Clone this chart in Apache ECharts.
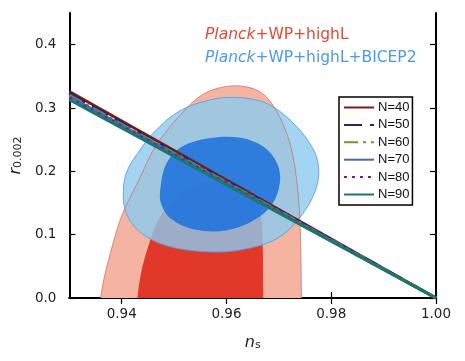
<!DOCTYPE html>
<html>
<head>
<meta charset="utf-8">
<script src="https://cdn.jsdelivr.net/npm/echarts@6/dist/echarts.min.js"></script>
<style>
  html, body { margin: 0; padding: 0; background: #fff; }
  #chart { width: 465px; height: 361px; }
</style>
</head>
<body>
<div id="chart"></div>
<script>
// tick labels
const nsTicks = [0.94, 0.96, 0.98, 1.00]
const rTicks = [0.0, 0.1, 0.2, 0.3, 0.4]

// N-lines: r at ns = 0.93 and ns = 1.00
const nsEnds = [0.93, 1.00]
const lineNames = ['N=40', 'N=50', 'N=60', 'N=70', 'N=80', 'N=90']
const rN40 = [0.326, 0]
const rN50 = [0.323, 0]
const rN60 = [0.320, 0]
const rN70 = [0.318, 0]
const rN80 = [0.316, 0]
const rN90 = [0.313, 0]

// contours [ns, r]
const planck95 = [
  [0.9366, 0.03], [0.9378, 0.07], [0.9400, 0.13], [0.9432, 0.185], [0.9465, 0.24],
  [0.9515, 0.292], [0.9556, 0.322], [0.9600, 0.334], [0.9640, 0.333], [0.9670, 0.322],
  [0.9692, 0.300], [0.9715, 0.26], [0.9730, 0.21], [0.9739, 0.14], [0.9742, 0.07],
  [0.9743, 0.0], [0.9743, -0.02], [0.9360, -0.02], [0.9360, 0.0]
]
const planck68 = [
  [0.9437, 0.04], [0.9450, 0.08], [0.9468, 0.12], [0.9495, 0.152], [0.9535, 0.176],
  [0.9578, 0.186], [0.9620, 0.180], [0.9650, 0.165], [0.9665, 0.135], [0.9669, 0.09],
  [0.9670, 0.0], [0.9670, -0.02], [0.9430, -0.02], [0.9430, 0.0]
]
const bicep95 = [
  [0.9403, 0.170], [0.9410, 0.200], [0.9430, 0.228], [0.9462, 0.262], [0.9510, 0.295],
  [0.9575, 0.314], [0.9630, 0.316], [0.9680, 0.306], [0.9729, 0.275], [0.9765, 0.236],
  [0.9776, 0.205], [0.9770, 0.170], [0.9741, 0.128], [0.9697, 0.094], [0.9627, 0.076],
  [0.9564, 0.073], [0.9488, 0.082], [0.9435, 0.104], [0.9408, 0.135]
]
const bicep68 = [
  [0.9474, 0.175], [0.9485, 0.212], [0.9513, 0.238], [0.9564, 0.252], [0.9627, 0.253],
  [0.9672, 0.238], [0.9697, 0.212], [0.9702, 0.183], [0.9688, 0.149], [0.9653, 0.123],
  [0.9602, 0.107], [0.9539, 0.108], [0.9494, 0.125], [0.9475, 0.149]
]

const FONT = 'DejaVu Sans'

// filled blob through the axes
const contour = (pts, fill, stroke) => ({
  type: 'custom',
  clip: true,
  silent: true,
  data: pts,
  encode: { x: 0, y: 1 },
  renderItem: (params, api) => {
    if (params.dataIndex !== 0) return
    return {
      type: 'polygon',
      shape: { points: pts.map(p => api.coord(p)), smooth: 0.35 },
      style: { fill: fill, stroke: stroke || null, lineWidth: 1 }
    }
  }
})

const nLine = (name, vals, color, type, width) => ({
  name: name,
  type: 'line',
  data: nsEnds.map((x, i) => [x, vals[i]]),
  symbol: 'none',
  clip: true,
  lineStyle: { color: color, width: width || 3, type: type || 'solid' },
  itemStyle: { color: color }
})

const tickAxis = {
  min: 0.93, max: 1.0,
  axisLine: { lineStyle: { color: '#000', width: 2 } },
  axisTick: { inside: true, length: 6, customValues: nsTicks, lineStyle: { color: '#000', width: 1.2 } },
  splitLine: { show: false }
}
const rAxis = {
  min: 0, max: 0.45,
  axisLine: { show: true, lineStyle: { color: '#000', width: 2 } },
  axisTick: { show: true, inside: true, length: 6, customValues: rTicks, lineStyle: { color: '#000', width: 1.2 } },
  splitLine: { show: false }
}

const chart = echarts.init(document.getElementById('chart'))
chart.setOption({
  animation: false,
  backgroundColor: '#fff',
  grid: { left: 68, right: 29, top: 13, bottom: 63 },
  title: [
    {
      text: '{i|Planck}+WP+highL',
      left: 205, top: 27, padding: 0,
      textStyle: {
        fontFamily: FONT, fontSize: 15.5, fontWeight: 'normal', color: '#dd4b35',
        rich: { i: { fontFamily: FONT, fontSize: 15.5, fontStyle: 'italic', color: '#dd4b35' } }
      }
    },
    {
      text: '{i|Planck}+WP+highL+BICEP2',
      left: 205, top: 50, padding: 0,
      textStyle: {
        fontFamily: FONT, fontSize: 15.5, fontWeight: 'normal', color: '#4a9be6',
        rich: { i: { fontFamily: FONT, fontSize: 15.5, fontStyle: 'italic', color: '#4a9be6' } }
      }
    }
  ],
  legend: {
    data: lineNames,
    orient: 'vertical',
    left: 339, top: 97,
    padding: [4, 3, 4, 4],
    itemWidth: 30, itemHeight: 14, itemGap: 4.4,
    itemStyle: { opacity: 0 },
    borderColor: '#000', borderWidth: 1.5, borderRadius: 0,
    backgroundColor: '#fff',
    textStyle: { fontFamily: 'Liberation Sans', fontSize: 13, color: '#111', padding: [0, 0, 0, -1] }
  },
  xAxis: [
    Object.assign({}, tickAxis, {
      type: 'value', position: 'bottom',
      name: '{i|n}{s|s}', nameLocation: 'middle', nameGap: 33,
      nameTextStyle: {
        rich: {
          i: { fontFamily: FONT, fontSize: 16, fontStyle: 'italic', color: '#222', verticalAlign: 'bottom', lineHeight: 20 },
          s: { fontFamily: FONT, fontSize: 11, color: '#222', verticalAlign: 'bottom', lineHeight: 14 }
        }
      },
      axisLabel: {
        customValues: nsTicks, margin: 9,
        fontFamily: FONT, fontSize: 13.5, color: '#222',
        formatter: v => v.toFixed(2)
      }
    }),
    Object.assign({}, tickAxis, { type: 'value', position: 'top', axisLabel: { show: false } })
  ],
  yAxis: [
    Object.assign({}, rAxis, {
      type: 'value', position: 'left',
      name: '{i|r}{s|0.002}', nameLocation: 'middle', nameGap: 42,
      nameTextStyle: {
        rich: {
          i: { fontFamily: FONT, fontSize: 16, fontStyle: 'italic', color: '#222', verticalAlign: 'bottom', lineHeight: 20 },
          s: { fontFamily: FONT, fontSize: 11, color: '#222', verticalAlign: 'bottom', lineHeight: 14 }
        }
      },
      axisLabel: {
        customValues: rTicks, margin: 13,
        fontFamily: FONT, fontSize: 13.5, color: '#222',
        formatter: v => v.toFixed(1)
      }
    }),
    Object.assign({}, rAxis, { type: 'value', position: 'right', axisLabel: { show: false } })
  ],
  series: [
    contour(planck95, '#f5b4a2', null),
    contour(planck68, '#e1382a', null),
    contour(bicep95, 'rgba(140,202,240,0.8)', 'rgba(90,160,225,0.9)'),
    contour(bicep68, 'rgba(30,115,220,0.88)', null),
    contour(planck95, 'none', 'rgba(205,110,100,0.75)'),
    nLine('N=40', rN40, '#7b1e12'),
    nLine('N=50', rN50, '#2b2170', [18, 8]),
    nLine('N=60', rN60, '#6b9a1f', [14, 5, 3, 5]),
    nLine('N=70', rN70, '#4b6aa8'),
    nLine('N=80', rN80, '#7a1a8a', [3, 5]),
    nLine('N=90', rN90, '#177a68')
  ]
})
</script>
</body>
</html>
